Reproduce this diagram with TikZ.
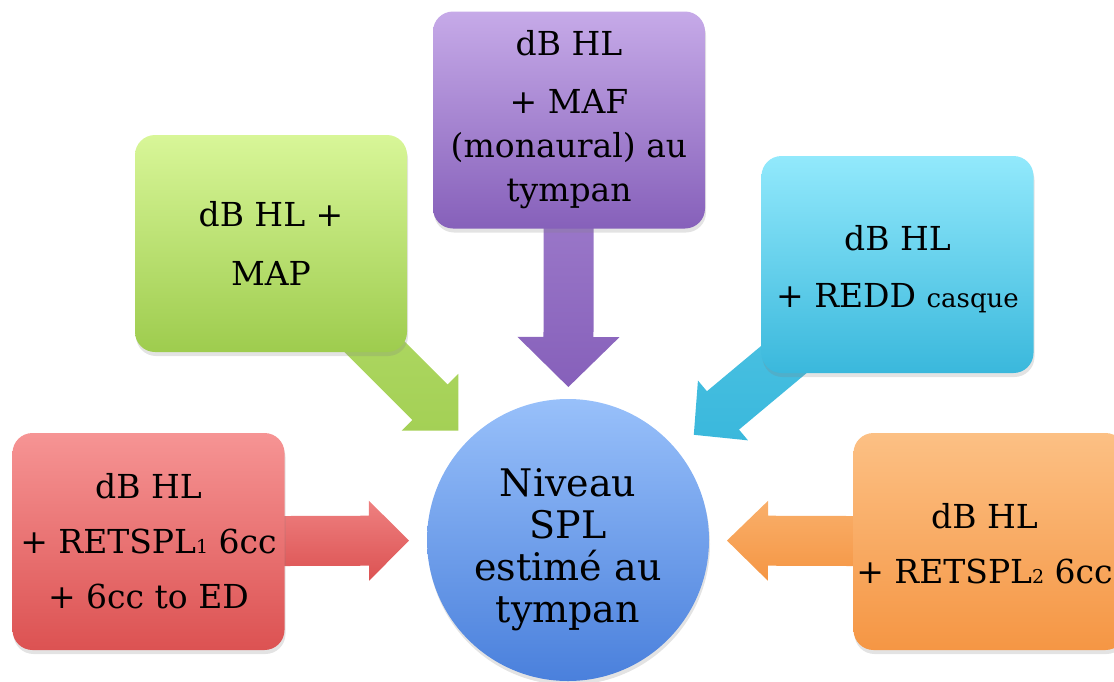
\documentclass[tikz,border=0pt]{standalone}
\usepackage{fontspec}
\setmainfont{DejaVu Serif}
\usetikzlibrary{calc,shadows}
\pgfdeclarelayer{bg}
\pgfsetlayers{bg,main}
\newcommand\bxfont{\fontsize{33}{44}\selectfont}
\newcommand\crfont{\fontsize{38}{42}\selectfont}
\newcommand\smdigit[1]{{\fontsize{19}{19}\selectfont #1}}
\newcommand\blockarrow[7]{%
  \coordinate (#1h) at ($(#3)!#6!(#2)$);
  \shade[#7] ($(#2)!#4!90:(#3)$) -- ($(#1h)!#4!90:(#3)$) -- ($(#1h)!#5!90:(#3)$) -- (#3)
    -- ($(#1h)!#5!-90:(#3)$) -- ($(#1h)!#4!-90:(#3)$) -- ($(#2)!#4!-90:(#3)$) -- cycle;
}
\definecolor{redT}{RGB}{246,148,148}\definecolor{redB}{RGB}{220,82,82}
\definecolor{grnT}{RGB}{216,246,152}\definecolor{grnB}{RGB}{158,204,78}
\definecolor{purT}{RGB}{198,170,232}\definecolor{purB}{RGB}{134,96,186}
\definecolor{bluT}{RGB}{146,233,252}\definecolor{bluB}{RGB}{58,184,220}
\definecolor{orgT}{RGB}{252,192,132}\definecolor{orgB}{RGB}{245,150,68}
\definecolor{cirT}{RGB}{152,192,250}\definecolor{cirB}{RGB}{74,128,220}
\tikzset{
  box/.style={rounded corners=20pt, minimum width=272pt, minimum height=217pt,
    align=center, inner sep=0pt, font=\bxfont, text=black,
    drop shadow={shadow xshift=1pt, shadow yshift=-4pt, opacity=0.22}},
  hub/.style={circle, minimum size=282pt, inner sep=0pt, align=center,
    font=\crfont, text=black, top color=cirT, bottom color=cirB,
    drop shadow={shadow xshift=1pt, shadow yshift=-4pt, opacity=0.22}},
}
\begin{document}
\begin{tikzpicture}[x=1pt,y=-1pt]
\useasboundingbox (0,0) rectangle (1114,681);
% boxes
\node[box, top color=redT, bottom color=redB] (red) at (148.5,541.5)
  {dB HL\\[11pt]+ RETSPL\smdigit{1} 6cc\\[11pt]+ 6cc to ED};
\node[box, top color=grnT, bottom color=grnB] (green) at (271,243.5)
  {dB HL +\\[15pt]MAP};
\node[box, top color=purT, bottom color=purB] (purple) at (569,120)
  {dB HL\\[14pt]+ MAF\\(monaural) au\\tympan};
\node[box, top color=bluT, bottom color=bluB] (blue) at (897.5,264.5)
  {\rule{0pt}{35pt}dB HL\\[13pt]+ REDD {\fontsize{26}{26}\selectfont casque}};
\node[box, top color=orgT, bottom color=orgB] (orange) at (989.5,541.5)
  {\rule{0pt}{29pt}dB HL\hspace*{10pt}\\[11pt]+ RETSPL\smdigit{2} 6cc\hspace*{10pt}};
\node[hub] (hub) at (568,540) {\rule{0pt}{47pt}Niveau\\SPL\\estimé au\\tympan};
% tips
\coordinate (tR) at ($(hub.center)!159pt!(red.center)$);
\coordinate (tO) at ($(hub.center)!159pt!(orange.center)$);
\coordinate (tG) at ($(hub.center)!155pt!(green.center)$);
\coordinate (tB) at ($(hub.center)!164pt!(blue.center)$);
\coordinate (tP) at ($(hub.center)!153pt!(purple.center)$);
\begin{pgfonlayer}{bg}
\blockarrow{aR}{red.center}{tR}{25pt}{40pt}{40pt}{top color=redT!70!redB, bottom color=redB}
\blockarrow{aO}{orange.center}{tO}{25pt}{40pt}{41pt}{top color=orgT!60!orgB, bottom color=orgB}
\blockarrow{aG}{green.center}{tG}{25pt}{40pt}{40pt}{top color=grnT!40!grnB, bottom color=grnB!90!grnT}
\blockarrow{aB}{blue.center}{tB}{25pt}{39pt}{38pt}{top color=bluT!30!bluB, bottom color=bluB}
\blockarrow{aP}{purple.center}{tP}{25pt}{51pt}{50pt}{top color=purT!50!purB, bottom color=purB}
\end{pgfonlayer}
\end{tikzpicture}
\end{document}
